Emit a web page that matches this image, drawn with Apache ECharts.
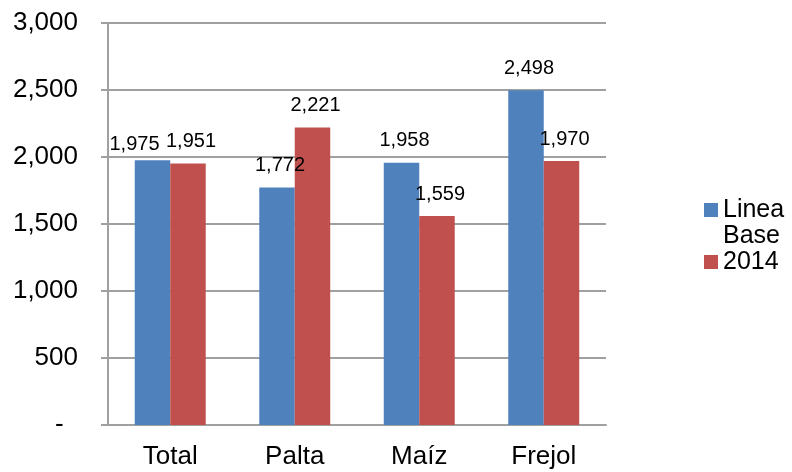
<!DOCTYPE html>
<html>
<head>
<meta charset="utf-8">
<script src="https://cdn.jsdelivr.net/npm/echarts@6/dist/echarts.min.js"></script>
<style>
    html, body { margin: 0; padding: 0; background: #fff; }
    #chart { width: 792px; height: 472px; }
</style>
</head>
<body>
<div id="chart"></div>
<script>
    // datos
    var categories = ['Total', 'Palta', 'Maíz', 'Frejol'];
    var lineaBase = [1975, 1772, 1958, 2498];
    var anio2014 = [1951, 2221, 1559, 1970];
    var seriesNames = ['Linea Base', '2014'];

    var font = 'Liberation Sans, Arial, sans-serif';
    var gridColor = '#a0a0a0';

    function fmt(v) {
        return v === 0 ? '-  ' : v.toLocaleString('en-US');
    }

    var chart = echarts.init(document.getElementById('chart'));
    chart.setOption({
        backgroundColor: '#fff',
        animation: false,
        textStyle: { fontFamily: font },
        grid: { left: 108, right: 186, top: 23, bottom: 47 },
        legend: {
            orient: 'vertical',
            left: 699,
            top: 166,
            itemWidth: 14,
            itemHeight: 14,
            itemGap: 0,
            icon: 'rect',
            textStyle: { fontFamily: font, fontSize: 25, lineHeight: 26, color: '#000' },
            data: seriesNames,
            // linea vacia arriba para que el icono quede junto a "Linea"
            formatter: function (name) {
                return name === 'Linea Base' ? '\nLinea\nBase' : name;
            }
        },
        xAxis: {
            type: 'category',
            data: categories,
            axisLine: { lineStyle: { color: gridColor, width: 2 } },
            axisTick: { length: 7, lineStyle: { color: gridColor, width: 2 } },
            axisLabel: { color: '#000', fontSize: 26, margin: 19, fontFamily: font }
        },
        yAxis: {
            type: 'value',
            min: 0,
            max: 3000,
            interval: 500,
            axisLine: { show: true, lineStyle: { color: gridColor, width: 2 } },
            axisTick: { show: true, length: 7, lineStyle: { color: gridColor, width: 2 } },
            splitLine: { lineStyle: { color: gridColor, width: 2 } },
            axisLabel: { color: '#000', fontSize: 26, margin: 30, fontFamily: font, formatter: fmt }
        },
        series: [
            {
                name: seriesNames[0],
                type: 'bar',
                barWidth: '28.5%',
                barGap: '0%',
                itemStyle: { color: '#4f81bd' },
                label: {
                    show: true, position: 'top', distance: 12, offset: [3, 0],
                    fontSize: 20, color: '#000', fontFamily: font,
                    formatter: function (p) { return fmt(p.value); }
                },
                data: lineaBase.map(function (v, i) {
                    return i === 0 ? { value: v, label: { offset: [-18, 6] } } : v;
                })
            },
            {
                name: seriesNames[1],
                type: 'bar',
                barWidth: '28.5%',
                barGap: '0%',
                itemStyle: { color: '#c0504d' },
                label: {
                    show: true, position: 'top', distance: 12, offset: [3, 0],
                    fontSize: 20, color: '#000', fontFamily: font,
                    formatter: function (p) { return fmt(p.value); }
                },
                data: anio2014
            }
        ]
    });
</script>
</body>
</html>
